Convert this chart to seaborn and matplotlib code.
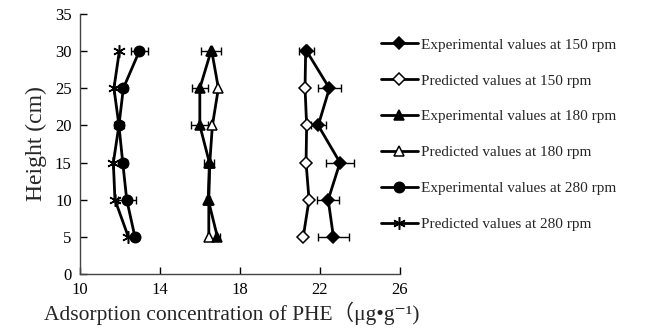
import numpy as np
import pandas as pd
import matplotlib
matplotlib.use('Agg')
import matplotlib.pyplot as plt
import seaborn as sns

# Высота слоя (см)
height = [5, 10, 15, 20, 25, 30]

exp_150 = [22.69, 22.43, 23.02, 21.93, 22.49, 21.35]
err_150 = [0.79, 0.55, 0.70, 0.38, 0.58, 0.37]
pred_150 = [21.18, 21.47, 21.32, 21.35, 21.27, 21.30]

exp_180 = [16.88, 16.42, 16.48, 16.00, 16.00, 16.56]
err_180 = [0.12, 0.10, 0.25, 0.42, 0.40, 0.50]
pred_180 = [16.45, 16.45, 16.50, 16.63, 16.93, 16.60]

exp_280 = [12.75, 12.34, 12.14, 11.95, 12.17, 12.97]
err_280 = [0.15, 0.46, 0.20, 0.20, 0.20, 0.42]
pred_280 = [12.42, 11.75, 11.67, 11.95, 11.70, 11.97]

labels = ['Experimental values at 150 rpm', 'Predicted values at 150 rpm',
          'Experimental values at 180 rpm', 'Predicted values at 180 rpm',
          'Experimental values at 280 rpm', 'Predicted values at 280 rpm']

sns.set_style('white')
plt.rcParams['font.family'] = ['Liberation Serif', 'DejaVu Serif', 'Noto Sans CJK SC']

fig = plt.figure(figsize=(6.45, 3.33), dpi=100)
ax = fig.add_axes([80 / 645, 1 - 274 / 333, 319.5 / 645, 260 / 333])

series = [
    (exp_150, err_150, 'D', 'black', 6, 5),
    (pred_150, None, 'D', 'white', 6, 3),
    (exp_180, err_180, '^', 'black', 7, 5),
    (pred_180, None, '^', 'white', 7, 3),
    (exp_280, err_280, 'o', 'black', 7.5, 5),
    (pred_280, None, (6, 2, 0), 'black', 9, 3),
]

for (vals, err, mk, fc, ms, z), lab in zip(series, labels):
    df = pd.DataFrame({'conc': vals, 'h': height})
    if err is not None:
        ax.errorbar(vals, height, xerr=err, fmt='none', ecolor='black',
                    elinewidth=1, capsize=3, capthick=1, zorder=2)
    sns.lineplot(data=df, x='conc', y='h', sort=False, estimator=None,
                 orient='y', ax=ax, color='black',
                 linewidth=2, marker=mk, markersize=ms, markerfacecolor=fc,
                 markeredgecolor='black', markeredgewidth=1.1, label=lab,
                 zorder=z)

ax.set_xlim(10, 26)
ax.set_ylim(0, 35)
ax.set_xticks([10, 14, 18, 22, 26])
ax.set_yticks(range(0, 36, 5))
ax.tick_params(direction='in', length=5, width=1, labelsize=12, pad=6,
               colors='black', left=True, bottom=True)
for side in ['top', 'right']:
    ax.spines[side].set_visible(False)
for side in ['left', 'bottom']:
    ax.spines[side].set_color('#444444')
    ax.spines[side].set_linewidth(1)

ax.set_xlabel('Adsorption concentration of PHE\uff08\u03bcg\u2022g\u207b\u00b9)',
              fontsize=15.5)
ax.xaxis.set_label_coords(0.476, -0.105)
ax.set_ylabel('Height (cm)', fontsize=17, labelpad=6)

ax.legend(loc='upper left', bbox_to_anchor=(381 / 645, 1 - 38 / 333),
          bbox_transform=fig.transFigure, frameon=False, fontsize=11,
          handlelength=2.4, handletextpad=0.25, labelspacing=1.45,
          borderaxespad=0, borderpad=0)

fig.savefig('out.png', dpi=100)
